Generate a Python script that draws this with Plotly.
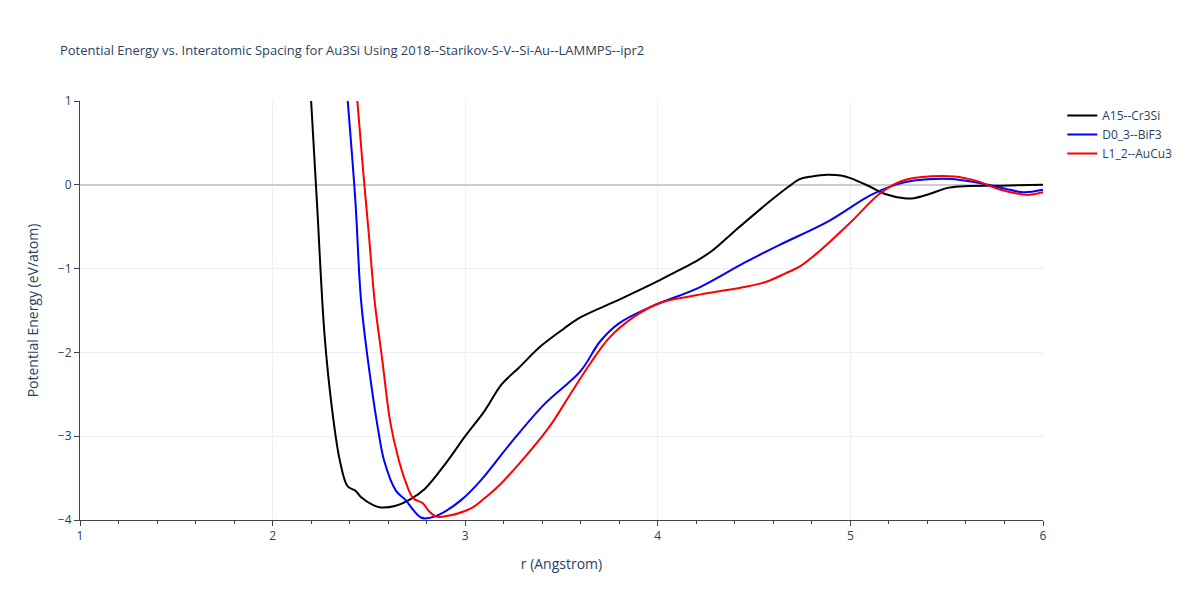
import plotly.graph_objects as go

a15_r = [2.2,2.23,2.27,2.31,2.35,2.39,2.43,2.46,2.52,2.56,2.64,2.71,2.79,2.9,3.0,3.1,3.19,3.28,3.39,3.51,3.6,3.8,4.0,4.1,4.2,4.28,4.4,4.58,4.68,4.74,4.8,4.88,4.95,5.0,5.1,5.18,5.28,5.33,5.41,5.5,5.57,5.78,6.0]
a15_e = [1,-0.2,-1.8,-2.7,-3.3,-3.6,-3.65,-3.73,-3.82,-3.85,-3.83,-3.76,-3.63,-3.32,-3.0,-2.7,-2.38,-2.18,-1.93,-1.72,-1.58,-1.37,-1.15,-1.03,-0.91,-0.79,-0.55,-0.2,-0.02,0.07,0.1,0.12,0.11,0.08,-0.02,-0.11,-0.16,-0.16,-0.11,-0.04,-0.02,-0.01,0.0]
d03_r = [2.39,2.43,2.46,2.51,2.55,2.58,2.64,2.69,2.73,2.77,2.8,2.87,2.98,3.08,3.23,3.41,3.6,3.7,3.8,3.96,4.22,4.45,4.63,4.89,5.1,5.22,5.33,5.52,5.65,5.83,5.9,6.0]
d03_e = [1,-0.2,-1.4,-2.35,-2.95,-3.3,-3.65,-3.76,-3.88,-3.97,-3.98,-3.93,-3.76,-3.53,-3.1,-2.62,-2.22,-1.87,-1.65,-1.46,-1.22,-0.93,-0.72,-0.43,-0.13,-0.01,0.05,0.07,0.03,-0.06,-0.09,-0.06]
l12_r = [2.44,2.47,2.5,2.53,2.57,2.61,2.65,2.69,2.73,2.78,2.81,2.85,2.91,3.03,3.1,3.18,3.43,3.54,3.65,3.75,3.88,4.01,4.17,4.32,4.45,4.56,4.66,4.74,4.84,5.0,5.15,5.26,5.36,5.54,5.65,5.78,5.88,5.93,6.0]
l12_e = [1,0.17,-0.6,-1.39,-2.1,-2.82,-3.24,-3.54,-3.74,-3.8,-3.89,-3.96,-3.95,-3.86,-3.74,-3.58,-2.91,-2.52,-2.13,-1.82,-1.57,-1.41,-1.33,-1.27,-1.22,-1.16,-1.06,-0.97,-0.79,-0.45,-0.11,0.04,0.09,0.1,0.05,-0.06,-0.11,-0.12,-0.09]

fig = go.Figure()
fig.add_trace(go.Scatter(x=a15_r, y=a15_e, mode="lines", name="A15--Cr3Si", line=dict(color="black", width=2, shape="spline")))
fig.add_trace(go.Scatter(x=d03_r, y=d03_e, mode="lines", name="D0_3--BiF3", line=dict(color="blue", width=2, shape="spline")))
fig.add_trace(go.Scatter(x=l12_r, y=l12_e, mode="lines", name="L1_2--AuCu3", line=dict(color="red", width=2, shape="spline")))

fig.update_layout(
    width=1200, height=600, template="plotly_white",
    title=dict(text="Potential Energy vs. Interatomic Spacing for Au3Si Using 2018--Starikov-S-V--Si-Au--LAMMPS--ipr2", x=0.0433, y=0.937, font=dict(size=13)),
    margin=dict(l=72, r=165, t=93, b=88),
    legend=dict(x=1.02, y=1, xanchor="left", yanchor="top"),
    xaxis=dict(title="r (Angstrom)", range=[1, 6], dtick=1, showline=True, linecolor="#444",
               ticks="outside", minor=dict(ticks="outside", dtick=0.2, ticklen=3), zeroline=False),
    yaxis=dict(title="Potential Energy (eV/atom)", range=[-4, 1], dtick=1, showline=True, linecolor="#444",
               ticks="outside", zeroline=True, zerolinecolor="#ccc", zerolinewidth=2),
)
fig.write_html("out.html")
